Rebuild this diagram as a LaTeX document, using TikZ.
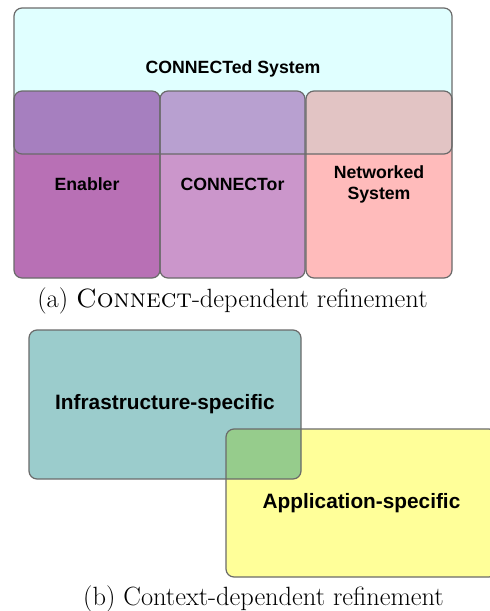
\documentclass[tikz,border=0pt]{standalone}
\usepackage{fontspec}
\newfontfamily\boxfont{Liberation Sans}
\usetikzlibrary{positioning}
\definecolor{sysc}{HTML}{E0FFFF}\definecolor{enbc}{HTML}{B870B5}\definecolor{enbo}{HTML}{A67FBF}
\definecolor{conc}{HTML}{CB96CB}\definecolor{cono}{HTML}{B8A0D0}\definecolor{netc}{HTML}{FFBBBB}
\definecolor{neto}{HTML}{E2C4C4}\definecolor{infc}{HTML}{9BCCCC}\definecolor{appc}{HTML}{FFFF99}
\definecolor{ovlc}{HTML}{96CC8C}\definecolor{rimc}{HTML}{6A6A6A}
\tikzset{box/.style={rectangle,rounded corners=8pt,inner sep=0pt,outer sep=0pt,align=center,font=\boxfont\bfseries\fontsize{17.7}{21}\selectfont},
bigbox/.style={box,font=\boxfont\bfseries\fontsize{20.8}{25}\selectfont},
rim/.style={draw=rimc,line width=1.2pt,rounded corners=8pt},captxt/.style={inner sep=0pt,anchor=base,font=\fontsize{26.4}{30}\selectfont}}
\begin{document}
\begin{tikzpicture}[x=1pt,y=-1pt]
\useasboundingbox(0,0)rectangle(490,611);
% (a) CONNECT-dependent
\node[box,fill=sysc,minimum width=438pt,minimum height=146pt](sys)at(233,81){};
\node[box,fill=enbc,minimum width=146pt,minimum height=187pt](enb)at(87,184.5){Enabler};
\node[box,fill=conc,minimum width=145pt,minimum height=187pt](con)at(232.5,184.5){CONNECTor};
\node[box,fill=netc,minimum width=146pt,minimum height=187pt](net)at(379,184.5){Networked\\System};
\node[box](systxt)at([yshift=12pt]sys.center){CONNECTed System};
\begin{scope}
\clip[rounded corners=8pt](sys.south west)rectangle(sys.north east);
\foreach\nd/\cl in{enb/enbo,con/cono,net/neto}\fill[\cl,rounded corners=8pt](\nd.south west)rectangle(\nd.north east);
\end{scope}
\foreach\nd in{sys,enb,con,net}\draw[rim](\nd.south west)rectangle(\nd.north east);
\node[captxt](capa)at(232.5,307){(a) \textsc{Connect}-dependent refinement};
% (b) context-dependent
\node[bigbox,fill=infc,minimum width=272pt,minimum height=149pt](inf)at(165,404.5){Infrastructure-specific};
\node[bigbox,fill=appc,minimum width=271pt,minimum height=148pt](app)at(361.5,503){Application-specific};
\begin{scope}
\clip[rounded corners=8pt](inf.south west)rectangle(inf.north east);
\fill[ovlc,rounded corners=8pt](app.south west)rectangle(app.north east);
\end{scope}
\foreach\nd in{inf,app}\draw[rim](\nd.south west)rectangle(\nd.north east);
\node[captxt](capb)at(263.5,605){(b) Context-dependent refinement};
\end{tikzpicture}
\end{document}
